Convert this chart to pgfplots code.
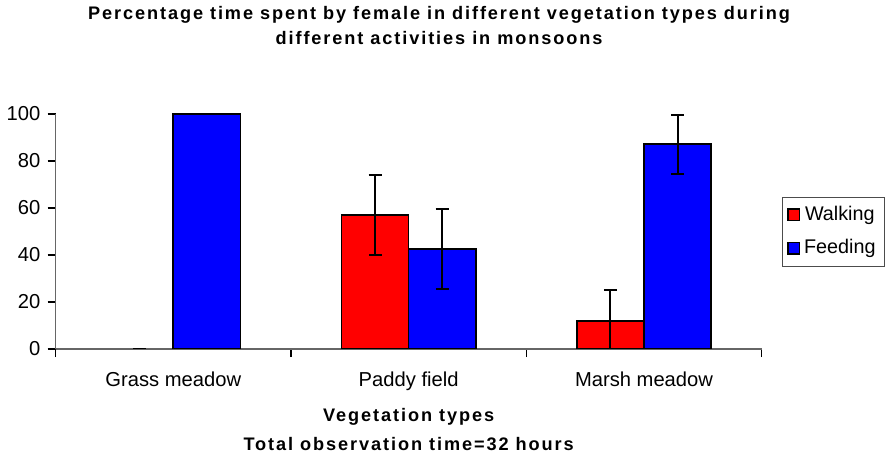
\documentclass[border=0pt]{standalone}
\usepackage{pgfplots}
\pgfplotsset{compat=1.18}
\usepackage{fontspec}
\setmainfont{Liberation Sans}
\newfontfamily\spaced[LetterSpace=10.5]{Liberation Sans}
\begin{document}
\begin{tikzpicture}
\begin{axis}[
    scale only axis,
    width=350pt, height=116.5pt,
    xmin=-0.5, xmax=2.5,
    ymin=0, ymax=100,
    axis x line*=bottom, axis y line*=left,
    axis line style={black!60, line width=0.6pt},
    ybar, bar width=0.285,
    xtick={0,1,2},
    xticklabels={Grass meadow, Paddy field, Marsh meadow},
    minor xtick={-0.5,0.5,1.5,2.5},
    ytick={0,20,...,100},
    tick align=outside,
    major tick length=4pt,
    minor tick length=4pt,
    x tick style={draw=none},
    minor x tick style={draw=black, line width=0.6pt},
    y tick style={black, line width=0.6pt},
    tick label style={font=\fontsize{10}{12}\selectfont},
    /pgf/number format/assume math mode=true,
    xticklabel style={yshift=-4pt},
    title={Percentage time spent by female in different vegetation types during\\different activities in monsoons},
    title style={font=\fontsize{9}{12}\selectfont\spaced\bfseries, align=center, at={(0.543,1)}, anchor=south, yshift=25pt},
    xlabel={Vegetation types\\Total observation time=32 hours},
    xlabel style={font=\fontsize{9}{14.5}\selectfont\spaced\bfseries, align=center, at={(0.5,0)}, anchor=north, yshift=-26pt},
    legend style={at={(1.0286,0.5)}, anchor=west, draw=black!70, font=\fontsize{9.8}{11}\selectfont,
        row sep=4pt, inner sep=2.5pt},
    legend image code/.code={\draw[#1, draw=black, line width=0.6pt] (0cm,-0.1cm) rectangle (0.2cm,0.1cm);},
    error bars/y dir=both,
    error bars/y explicit,
    error bars/error bar style={black, line width=1pt},
    error bars/error mark options={rotate=90, black, mark size=3.25pt, line width=1pt},
]
    % Walking
    \addplot[fill=red, draw=black, line width=0.8pt, bar shift=-0.1425] coordinates {
        (1, 57.1) +- (0, 17)
        (2, 12) +- (0, 13)
    };
    % Feeding
    \addplot[fill=blue, draw=black, line width=0.8pt, bar shift=0.1425] coordinates {
        (0, 100) +- (0, 0)
        (1, 42.5) +- (0, 17)
        (2, 87.1) +- (0, 12.5)
    };
    % Walking in grass meadow = 0 (only its error cap shows)
    \addplot[draw=none, fill=none, bar shift=-0.1425, forget plot] coordinates {
        (0, 0) +- (0, 0)
    };
    \legend{Walking, Feeding}
\end{axis}
\end{tikzpicture}
\end{document}
